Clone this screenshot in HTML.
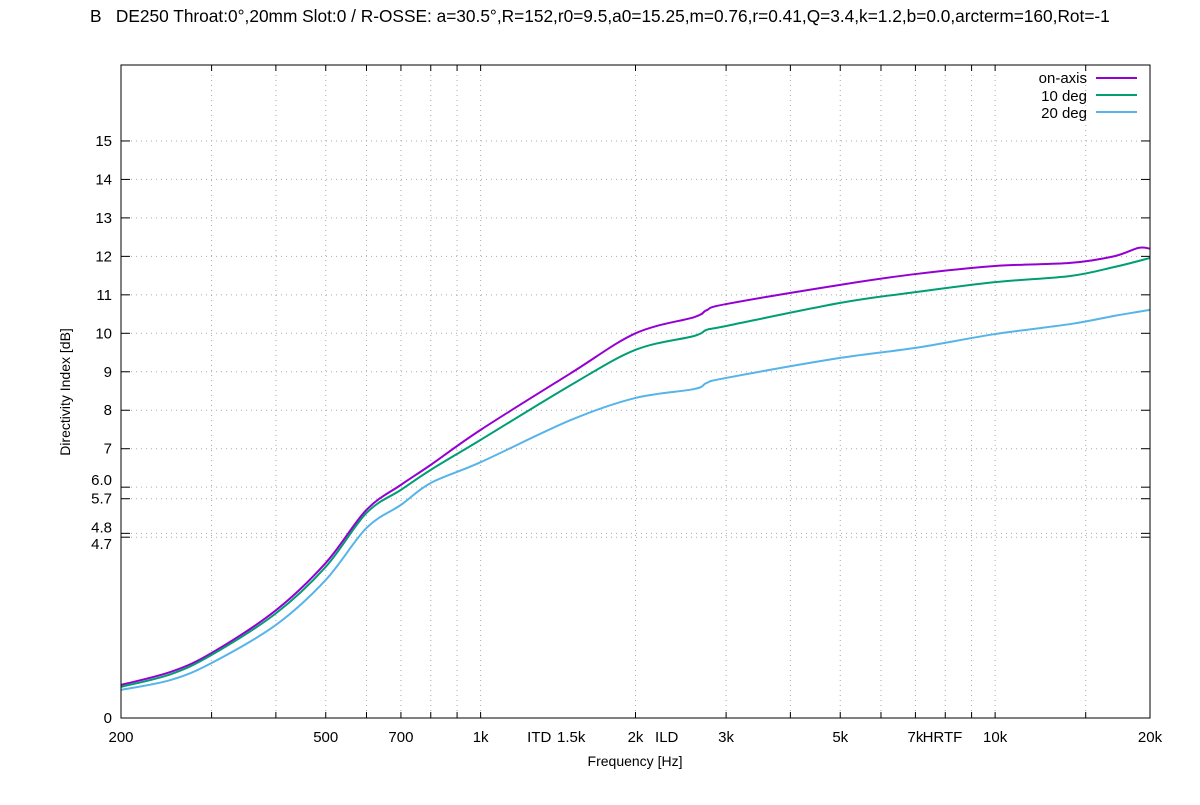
<!DOCTYPE html>
<html><head><meta charset="utf-8"><style>
body{margin:0;background:#fff;width:1200px;height:800px;overflow:hidden}
svg text{font-family:"Liberation Sans",Arial,sans-serif;fill:#000}
</style></head><body>
<svg id="chart" width="1200" height="800" xmlns="http://www.w3.org/2000/svg">
<text x="90" y="22" font-size="17.3" style="white-space:pre" xml:space="preserve">B   DE250 Throat:0°,20mm Slot:0 / R-OSSE: a=30.5°,R=152,r0=9.5,a0=15.25,m=0.76,r=0.41,Q=3.4,k=1.2,b=0.0,arcterm=160,Rot=-1</text>
<g id="grid"></g><g id="ticks"></g><g id="series"></g>
<rect x="121" y="65" width="1029" height="653" fill="none" stroke="#000" stroke-width="1"/>
<text x="635" y="766" font-size="14" text-anchor="middle">Frequency [Hz]</text>
<text transform="translate(70,392) rotate(-90)" font-size="14" text-anchor="middle">Directivity Index [dB]</text>
<g font-size="15">
<text x="1087" y="83" text-anchor="end">on-axis</text><line x1="1096" x2="1137" y1="78" y2="78" stroke="#9400d3" stroke-width="2"/>
<text x="1087" y="101" text-anchor="end">10 deg</text><line x1="1096" x2="1137" y1="95" y2="95" stroke="#009e73" stroke-width="2"/>
<text x="1087" y="118" text-anchor="end">20 deg</text><line x1="1096" x2="1137" y1="112" y2="112" stroke="#56b4e9" stroke-width="2"/>
</g>
</svg>
<script>
const freqs=[200,250,300,400,500,600,700,800,1000,1500,2000,2600,2750,3000,5000,7000,10000,14000,17000,19000,20000];
const onAxis=[0.86,1.2,1.69,2.8,4.03,5.41,6.06,6.58,7.49,8.97,10.0,10.42,10.6,10.76,11.26,11.54,11.75,11.83,12.0,12.22,12.2];
const deg10=[0.81,1.14,1.64,2.72,3.93,5.33,5.93,6.45,7.23,8.66,9.57,9.93,10.09,10.19,10.79,11.07,11.33,11.49,11.72,11.88,11.96];
const deg20=[0.73,0.99,1.43,2.42,3.59,4.94,5.54,6.11,6.65,7.75,8.32,8.55,8.71,8.84,9.36,9.62,9.98,10.24,10.45,10.56,10.61];
const yTicks=[0,4.7,4.8,5.7,6.0,7,8,9,10,11,12,13,14,15];
const yTickLabels=["0","4.7","4.8","5.7","6.0","7","8","9","10","11","12","13","14","15"];
const yLabelShift=[0,7,-6,0,-7,0,0,0,0,0,0,0,0,0];
const xTicks=[200,500,700,1000,1300,1500,2000,2300,3000,5000,7000,7900,10000,20000];
const xTickLabels=["200","500","700","1k","ITD","1.5k","2k","ILD","3k","5k","7k","HRTF","10k","20k"];
const xGrid=[300,400,500,600,700,800,900,1000,2000,3000,4000,5000,6000,7000,8000,9000,10000,15000];
const NS="http://www.w3.org/2000/svg";
const X=f=>121+514.5*Math.log10(f/200);
const Y=v=>718-38.47*v;
function mk(t,a,p){const e=document.createElementNS(NS,t);for(const k in a)e.setAttribute(k,a[k]);p.appendChild(e);return e;}
const grid=document.getElementById('grid'),ticks=document.getElementById('ticks'),ser=document.getElementById('series');
xGrid.forEach(f=>{const l=mk('line',{x1:X(f),x2:X(f),y1:65,y2:718,stroke:'#aaa','stroke-dasharray':'1,4'},grid);


mk('line',{x1:X(f),x2:X(f),y1:718,y2:712,stroke:'#000'},ticks);mk('line',{x1:X(f),x2:X(f),y1:65,y2:71,stroke:'#000'},ticks);});
yTicks.forEach((v,i)=>{if(v>0){const l=mk('line',{x1:121,x2:1150,y1:Y(v),y2:Y(v),stroke:'#aaa','stroke-dasharray':'1,4'},grid);

}
mk('line',{x1:121,x2:130,y1:Y(v),y2:Y(v),stroke:'#000'},ticks);mk('line',{x1:1141,x2:1150,y1:Y(v),y2:Y(v),stroke:'#000'},ticks);
const t=mk('text',{x:112,y:Y(v)+5+yLabelShift[i],'font-size':15,'text-anchor':'end'},ticks);t.textContent=yTickLabels[i];

});
xTicks.forEach((f,i)=>{const t=mk('text',{x:X(f),y:742,'font-size':15,'text-anchor':'middle'},ticks);t.textContent=xTickLabels[i];

});
[[onAxis,'#9400d3','on-axis-line'],[deg10,'#009e73','10-deg-line'],[deg20,'#56b4e9','20-deg-line']].forEach(([d,c,n])=>{
const pts=freqs.map((f,i)=>[X(f),Y(d[i])]);
let p='M'+pts[0][0]+','+pts[0][1];
for(let i=0;i<pts.length-1;i++){const p0=pts[Math.max(0,i-1)],p1=pts[i],p2=pts[i+1],p3=pts[Math.min(pts.length-1,i+2)];
const c1=[p1[0]+(p2[0]-p0[0])/6,p1[1]+(p2[1]-p0[1])/6],c2=[p2[0]-(p3[0]-p1[0])/6,p2[1]-(p3[1]-p1[1])/6];
p+=` C${c1[0]},${c1[1]} ${c2[0]},${c2[1]} ${p2[0]},${p2[1]}`;}
const e=mk('path',{d:p,fill:'none',stroke:c,'stroke-width':2},ser);

});
</script>
</body></html>
